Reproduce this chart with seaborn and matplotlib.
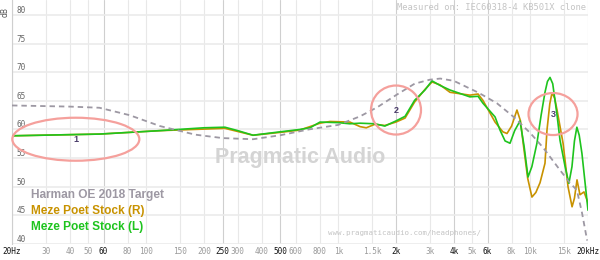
import numpy as np
import pandas as pd
import matplotlib
matplotlib.use('Agg')
import matplotlib.pyplot as plt
import seaborn as sns
from matplotlib.patches import Ellipse
from matplotlib.lines import Line2D
from matplotlib.ticker import NullLocator

# ---------------- data ----------------
target_freq = [20, 40, 57, 82, 118, 180, 250, 360, 500, 700, 1000, 1300, 1600, 2000,
               2500, 3000, 3400, 4000, 5400, 6700, 8200, 10000, 11700, 12700, 14300,
               16000, 17500, 18600, 19800]
target_db = [64.2, 64.0, 63.8, 62.5, 60.6, 59.1, 58.5, 58.3, 59.0, 60.0, 60.8, 62.3, 63.9, 66.0,
             68.0, 68.7, 68.9, 68.5, 66.4, 64.6, 62.2, 59.4, 56.8, 55.2, 52.9,
             50.8, 49.4, 45.5, 40.6]

right_freq = [20, 57, 118, 257, 360, 500, 630, 804, 906, 1150, 1300, 1400, 1550, 1750, 2000,
              2230, 2500, 2830, 3080, 3390, 3820, 4850, 5350, 5670, 6560, 7200, 7570, 8000,
              8530, 8900, 9200, 9700, 10210, 10700, 11250, 11940, 12230, 12650, 12990, 13400,
              13800, 14830, 15180, 15740, 16520, 17000, 17530, 18160, 19060, 20000]
right_db = [58.9, 59.2, 59.8, 60.2, 59.0, 59.5, 59.9, 61.1, 61.4, 61.3, 60.5, 60.3, 60.9, 60.7, 61.3,
            62.0, 64.8, 67.0, 68.3, 67.8, 66.5, 66.0, 66.2, 65.1, 61.3, 59.6, 59.3, 60.6,
            63.4, 61.5, 57.5, 51.5, 48.2, 49.0, 50.7, 54.1, 59.9, 64.5, 66.4, 65.5,
            63.4, 57.6, 54.7, 50.0, 46.5, 48.0, 51.2, 48.6, 49.1, 47.2]

left_freq = [20, 57, 118, 200, 257, 300, 360, 500, 630, 713, 804, 1000, 1150, 1300, 1550, 1750,
             2000, 2230, 2500, 2830, 3080, 3390, 3820, 4850, 5350, 5670, 6560, 6960, 7400, 7850,
             8300, 8850, 9300, 9740, 10200, 10840, 11400, 11940, 12300, 12680, 13100, 13800,
             14300, 15200, 15900, 16500, 17000, 17500, 18000, 18600, 20000]
left_db = [58.9, 59.2, 59.8, 60.3, 60.4, 59.8, 59.0, 59.6, 60.0, 60.3, 61.3, 61.2, 61.0, 61.1, 61.0, 60.6,
           61.5, 62.3, 65.1, 66.9, 68.5, 67.7, 66.9, 65.7, 65.8, 64.6, 62.2, 59.9, 58.0, 57.6,
           59.8, 61.5, 57.0, 51.7, 53.5, 57.6, 62.5, 66.5, 68.4, 69.1, 68.0, 62.5,
           58.1, 53.5, 50.6, 53.5, 58.0, 60.4, 59.0, 55.8, 45.9]

series_names = ['Harman OE 2018 Target', 'Meze Poet Stock (R)', 'Meze Poet Stock (L)']

xtick_vals = [20, 30, 40, 50, 60, 80, 100, 150, 200, 250, 300, 400, 500, 600, 800, 1000,
              1500, 2000, 3000, 4000, 5000, 6000, 8000, 10000, 15000, 20000]
xtick_labels = ['20Hz', '30', '40', '50', '60', '80', '100', '150', '200', '250', '300', '400',
                '500', '600', '800', '1k', '1.5k', '2k', '3k', '4k', '5k', '6k', '8k', '10k',
                '15k', '20kHz']
major_labels = ['20Hz', '60', '250', '500', '2k', '4k', '6k', '20kHz']
ytick_vals = [40, 45, 50, 55, 60, 65, 70, 75, 80]

callout_labels = ['1', '2', '3']
callout_freq = [43, 2000, 13150]
callout_db = [58.3, 63.4, 62.7]

# ---------------- styling ----------------
sns.set_style('white')
plt.rcParams['font.family'] = ['Liberation Sans', 'DejaVu Sans']

c_target = '#9d98a3'
c_right = '#c89200'
c_left = '#1ec41e'

fig = plt.figure(figsize=(6, 2.6), dpi=100)
ax = fig.add_axes([12 / 600, 1 - 244 / 260, 576 / 600, 244 / 260])
ax.set_xscale('log')

df_t = pd.DataFrame({'freq': target_freq, 'db': target_db})
df_r = pd.DataFrame({'freq': right_freq, 'db': right_db})
df_l = pd.DataFrame({'freq': left_freq, 'db': left_db})

sns.lineplot(data=df_t, x='freq', y='db', ax=ax, color=c_target, lw=1.3,
             linestyle=(0, (3, 2.2)), estimator=None, sort=False, zorder=5)
sns.lineplot(data=df_r, x='freq', y='db', ax=ax, color=c_right, lw=1.2,
             estimator=None, sort=False, zorder=4, solid_joinstyle='round')
sns.lineplot(data=df_l, x='freq', y='db', ax=ax, color=c_left, lw=1.2,
             estimator=None, sort=False, zorder=4, solid_joinstyle='round')

ax.set_xlim(20, 20000)
ax.set_ylim(40, 80 + 15 / 5.725)
ax.set_xlabel('')
ax.set_ylabel('')

# x ticks / grid
ax.xaxis.set_minor_locator(NullLocator())
ax.set_xticks(xtick_vals)
ax.set_xticklabels(xtick_labels, family='DejaVu Sans Mono', fontsize=5.6)
ax.tick_params(axis='x', length=0, pad=2)
for lbl in ax.get_xticklabels():
    lbl.set_color('#111111' if lbl.get_text() in major_labels else '#9a9a9a')

# y ticks inside
ax.set_yticks(ytick_vals)
ax.set_yticklabels([str(v) for v in ytick_vals],
                   family='DejaVu Sans Mono', fontsize=5.6, color='#666666')
ax.tick_params(axis='y', length=0, pad=-3)
for lbl in ax.get_yticklabels():
    lbl.set_ha('left')
    lbl.set_va('bottom')

ax.grid(True, axis='both')
for gl, lab in zip(ax.xaxis.get_gridlines(), xtick_labels):
    gl.set_color('#cfcfcf' if lab in major_labels else '#e8e8e8')
    gl.set_linewidth(0.8)
for gl in ax.yaxis.get_gridlines():
    gl.set_color('#ebebeb')
    gl.set_linewidth(1.2)

for s in ['top', 'right', 'bottom']:
    ax.spines[s].set_visible(False)
ax.spines['left'].set_color('#cfcfcf')
ax.spines['left'].set_linewidth(0.8)

# callout ellipses
sizes = [(127, 43), (50, 49), (49, 42)]
inv = fig.transFigure.inverted()
for lab, f, d, (w, h) in zip(callout_labels, callout_freq, callout_db, sizes):
    fx, fy = inv.transform(ax.transData.transform((f, d)))
    e = Ellipse((fx, fy), w / 600, h / 260, transform=fig.transFigure, fill=False,
                ec='#f5a09c', lw=1.6, zorder=3, clip_on=False)
    fig.patches.append(e)
    ax.text(f, d, lab, ha='center', va='center', fontsize=6.5, fontweight='bold',
            color='#4b3d6b', zorder=6)

# legend as coloured text
handles = [Line2D([], [], color=c) for c in (c_target, c_right, c_left)]
leg = ax.legend(handles, series_names, loc='upper left',
                bbox_to_anchor=(31 / 600, 1 - 189 / 260), bbox_transform=fig.transFigure,
                handlelength=0, handletextpad=0, frameon=False, labelcolor='linecolor',
                prop=dict(family='Liberation Sans', weight='bold', size=8.6),
                labelspacing=0.32, borderpad=0, borderaxespad=0)

# texts
fig.text(300 / 600, 1 - 157 / 260, 'Pragmatic Audio', ha='center', va='center',
         fontsize=15.5, fontweight='bold', color='#d4d4d4', family='Liberation Sans', zorder=1)
fig.text(586 / 600, 1 - 8 / 260, 'Measured on: IEC60318-4 KB501X clone', ha='right',
         va='center', family='DejaVu Sans Mono', fontsize=6.3, color='#c4c4c4')
fig.text(404 / 600, 1 - 233 / 260, 'www.pragmaticaudio.com/headphones/', ha='center',
         va='center', family='DejaVu Sans Mono', fontsize=5.4, color='#c4c4c4')
fig.text(5 / 600, 1 - 12 / 260, 'dB', rotation=90, ha='center', va='center',
         fontsize=5.5, color='#555555', family='DejaVu Sans')

fig.savefig('out.png', dpi=100)
